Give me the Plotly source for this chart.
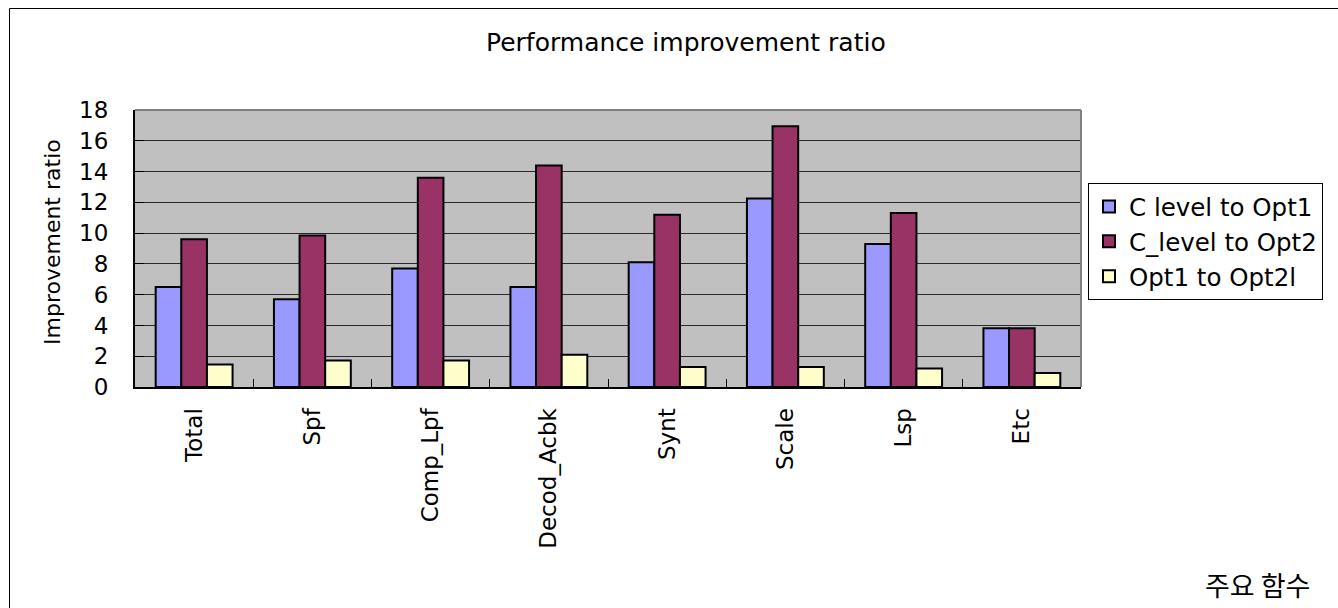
import plotly.graph_objects as go

categories = ["Total", "Spf", "Comp_Lpf", "Decod_Acbk", "Synt", "Scale", "Lsp", "Etc"]
c_level_to_opt1 = [6.5, 5.7, 7.7, 6.5, 8.1, 12.25, 9.3, 3.82]
c_level_to_opt2 = [9.6, 9.85, 13.6, 14.4, 11.2, 16.95, 11.3, 3.82]
opt1_to_opt2 = [1.46, 1.72, 1.72, 2.1, 1.3, 1.3, 1.2, 0.91]
series_names = ["C level to Opt1", "C_level to Opt2", "Opt1 to Opt2l"]
series_colors = ["#9999FF", "#993366", "#FFFFCC"]
y_ticks = [0, 2, 4, 6, 8, 10, 12, 14, 16, 18]

W, H = 1338, 608
L, R, T, B = 135, 1081, 110, 387  # plot area in pixels


def px(x):
    return (x - L) / (R - L)


def py(y):
    return (B - y) / (B - T)


fig = go.Figure()
for name, vals, col in zip(series_names, [c_level_to_opt1, c_level_to_opt2, opt1_to_opt2], series_colors):
    fig.add_trace(go.Bar(
        x=categories, y=vals, name=name,
        marker=dict(color=col, line=dict(color="black", width=2)),
    ))

fig.update_layout(
    width=W, height=H,
    margin=dict(l=L, r=W - R, t=T, b=H - B, pad=0, autoexpand=False),
    paper_bgcolor="white",
    plot_bgcolor="#C0C0C0",
    font=dict(family="DejaVu Sans", color="black", size=22),
    bargap=0.35, bargroupgap=0,
    showlegend=True,
    legend=dict(
        x=px(1088), y=py(183), xanchor="left", yanchor="top",
        xref="paper", yref="paper",
        bgcolor="white", bordercolor="black", borderwidth=1,
        font=dict(family="DejaVu Sans", size=24.5, color="black"),
        tracegroupgap=0, itemclick=False,
    ),
    xaxis=dict(
        type="category",
        showline=True, linecolor="black", linewidth=2,
        ticks="inside", ticklen=8, tickcolor="black", tickwidth=1,
        tickson="boundaries",
        tickangle=-90,
        tickfont=dict(family="DejaVu Sans", size=23, color="black"),
        ticklabelstandoff=10,
        showgrid=False, zeroline=False,
    ),
    yaxis=dict(
        range=[0, 18], tickvals=y_ticks,
        showline=True, linecolor="black", linewidth=2,
        ticks="inside", ticklen=9, tickcolor="black", tickwidth=1,
        tickfont=dict(family="DejaVu Sans", size=23, color="black"),
        ticklabelstandoff=20,
        showgrid=True, gridcolor="#2a2a2a", gridwidth=1,
        zeroline=False,
    ),
)

# plot-area gray border (top and right)
fig.add_shape(type="line", xref="x domain", yref="y domain", x0=0, x1=1, y0=1, y1=1,
              line=dict(color="#808080", width=2))
fig.add_shape(type="line", xref="x domain", yref="y domain", x0=1, x1=1, y0=0, y1=1,
              line=dict(color="#808080", width=2))

# outer chart border
fig.add_shape(type="rect", xref="paper", yref="paper",
              x0=px(9.5), x1=px(1360), y0=py(640), y1=py(8.5),
              line=dict(color="black", width=1), fillcolor="rgba(0,0,0,0)", layer="below")

# title
fig.add_annotation(text="Performance improvement ratio", xref="paper", yref="paper",
                   x=px(686), y=py(43), showarrow=False, xanchor="center", yanchor="middle",
                   font=dict(family="DejaVu Sans", size=25, color="black"))
# y-axis title
fig.add_annotation(text="Improvement ratio", xref="paper", yref="paper",
                   x=px(52), y=py(242), showarrow=False, textangle=-90,
                   xanchor="center", yanchor="middle",
                   font=dict(family="DejaVu Sans", size=22, color="black"))
# x-axis title
fig.add_annotation(text="주요 함수", xref="paper", yref="paper",
                   x=px(1257), y=py(584), showarrow=False, xanchor="center", yanchor="middle",
                   font=dict(family="Noto Sans CJK KR", size=27, color="black"))

fig.write_html("out.html")
